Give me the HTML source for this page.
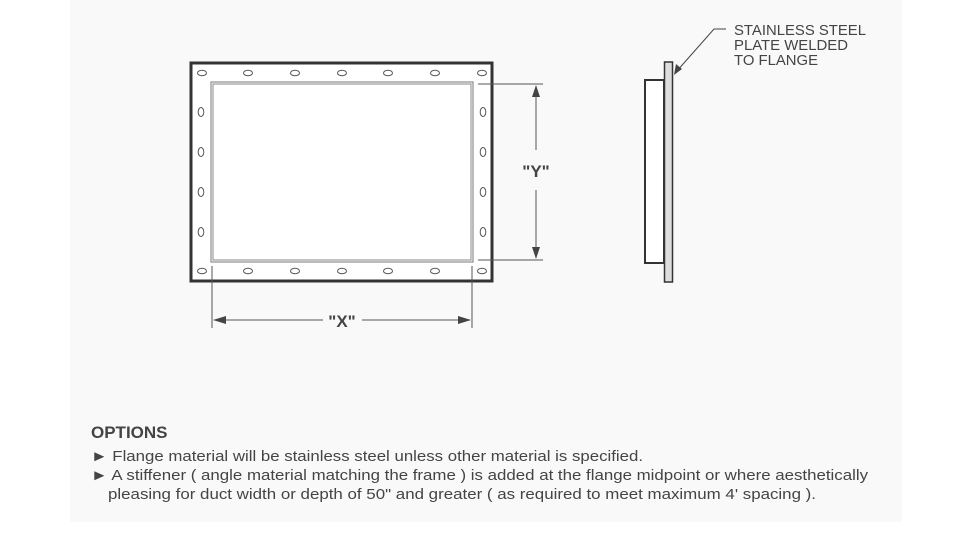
<!DOCTYPE html>
<html><head><meta charset="utf-8"><style>
html,body{margin:0;padding:0;background:#fff}
svg{display:block}
text{font-family:"Liberation Sans",Arial,sans-serif;fill:#444}
</style></head><body>
<svg width="974" height="548" viewBox="0 0 974 548" xmlns="http://www.w3.org/2000/svg">
<rect x="70" y="0" width="832" height="522" fill="#f9f9f9"/>
<!-- front view -->
<rect x="191" y="63" width="301" height="218" fill="#fff" stroke="#333" stroke-width="3"/>
<rect x="211" y="82" width="262" height="180" fill="#fff" stroke="#777" stroke-width="1"/>
<rect x="213" y="84" width="258" height="176" fill="none" stroke="#888" stroke-width="1"/>
<g fill="none" stroke="#555" stroke-width="1">
<ellipse cx="202" cy="73" rx="4.5" ry="2.8"/><ellipse cx="248" cy="73" rx="4.5" ry="2.8"/><ellipse cx="295" cy="73" rx="4.5" ry="2.8"/><ellipse cx="342" cy="73" rx="4.5" ry="2.8"/><ellipse cx="388" cy="73" rx="4.5" ry="2.8"/><ellipse cx="435" cy="73" rx="4.5" ry="2.8"/><ellipse cx="482" cy="73" rx="4.5" ry="2.8"/>
<ellipse cx="202" cy="271" rx="4.5" ry="2.8"/><ellipse cx="248" cy="271" rx="4.5" ry="2.8"/><ellipse cx="295" cy="271" rx="4.5" ry="2.8"/><ellipse cx="342" cy="271" rx="4.5" ry="2.8"/><ellipse cx="388" cy="271" rx="4.5" ry="2.8"/><ellipse cx="435" cy="271" rx="4.5" ry="2.8"/><ellipse cx="482" cy="271" rx="4.5" ry="2.8"/>
<ellipse cx="201" cy="112" rx="2.8" ry="4.5"/><ellipse cx="201" cy="152" rx="2.8" ry="4.5"/><ellipse cx="201" cy="192" rx="2.8" ry="4.5"/><ellipse cx="201" cy="232" rx="2.8" ry="4.5"/>
<ellipse cx="483" cy="112" rx="2.8" ry="4.5"/><ellipse cx="483" cy="152" rx="2.8" ry="4.5"/><ellipse cx="483" cy="192" rx="2.8" ry="4.5"/><ellipse cx="483" cy="232" rx="2.8" ry="4.5"/>
</g>
<g stroke="#555" stroke-width="1">
<line x1="478" y1="84" x2="543" y2="84"/><line x1="478" y1="260" x2="543" y2="260"/>
<line x1="536" y1="86" x2="536" y2="150"/><line x1="536" y1="190" x2="536" y2="258"/>
<line x1="212" y1="266" x2="212" y2="328"/><line x1="472" y1="266" x2="472" y2="328"/>
<line x1="214" y1="320" x2="323" y2="320"/><line x1="362" y1="320" x2="470" y2="320"/>
</g>
<g fill="#444">
<polygon points="536,85 532,97 540,97"/><polygon points="536,259 532,247 540,247"/>
<polygon points="213,320 226,316 226,324"/><polygon points="471,320 458,316 458,324"/>
</g>
<text x="536" y="177" font-size="17" font-weight="bold" text-anchor="middle">"Y"</text>
<text x="342" y="327" font-size="17" font-weight="bold" text-anchor="middle">"X"</text>
<!-- side view -->
<rect x="645" y="80" width="19" height="183" fill="#fff" stroke="#333" stroke-width="2"/>
<rect x="664.5" y="62" width="8" height="220" fill="#ddd" stroke="#333" stroke-width="1.5"/>
<polyline points="676,72 714,29 726,29" fill="none" stroke="#444" stroke-width="1"/>
<polygon points="674,75 676,64 682,69" fill="#444"/>
<text font-size="14.5" x="734" y="35" textLength="132" lengthAdjust="spacingAndGlyphs">STAINLESS STEEL</text>
<text font-size="14.5" x="734" y="50" textLength="114" lengthAdjust="spacingAndGlyphs">PLATE WELDED</text>
<text font-size="14.5" x="734" y="65" textLength="84" lengthAdjust="spacingAndGlyphs">TO FLANGE</text>
<!-- options -->
<text x="91" y="438" font-size="17" font-weight="bold" fill="#333">OPTIONS</text>
<text x="91" y="461" font-size="15" textLength="552" lengthAdjust="spacingAndGlyphs">► Flange material will be stainless steel unless other material is specified.</text>
<text x="91" y="480" font-size="15" textLength="777" lengthAdjust="spacingAndGlyphs">► A stiffener ( angle material matching the frame ) is added at the flange midpoint or where aesthetically</text>
<text x="108" y="499" font-size="15" textLength="708" lengthAdjust="spacingAndGlyphs">pleasing for duct width or depth of 50" and greater ( as required to meet maximum 4' spacing ).</text>
</svg>
</body></html>
